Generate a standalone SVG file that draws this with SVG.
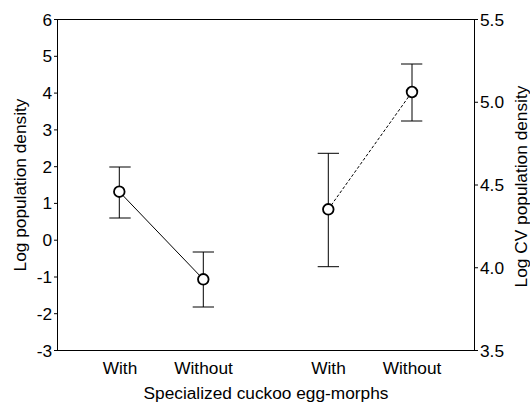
<svg xmlns="http://www.w3.org/2000/svg" width="530" height="404" viewBox="0 0 530 404">
<style>
text{font-family:"Liberation Sans",Arial,sans-serif;font-size:17.3px;fill:#000}
.ax{stroke:#000;stroke-width:1;fill:none}
.eb{stroke:#000;stroke-width:1;fill:none}
.pt{fill:#fff;stroke:#000;stroke-width:1.8}
.tl{text-anchor:end}
.tr{text-anchor:start}
.mid{text-anchor:middle}
</style>
<rect width="530" height="404" fill="#fff"/>
<g id="axes">
<rect class="ax" x="57.5" y="19.5" width="417" height="331"/>
<path class="ax" d="M54 19.5H57.5M54 56.3H57.5M54 93.1H57.5M54 129.9H57.5M54 166.7H57.5M54 203.4H57.5M54 240.2H57.5M54 277H57.5M54 313.7H57.5M54 350.5H57.5"/>
<path class="ax" d="M474.5 19.5H478M474.5 102.25H478M474.5 185H478M474.5 267.75H478M474.5 350.5H478"/>
<text class="tl" x="52" y="25.5">6</text>
<text class="tl" x="52" y="62.3">5</text>
<text class="tl" x="52" y="99.1">4</text>
<text class="tl" x="52" y="135.9">3</text>
<text class="tl" x="52" y="172.7">2</text>
<text class="tl" x="52" y="209.4">1</text>
<text class="tl" x="52" y="246.2">0</text>
<text class="tl" x="52" y="283">-1</text>
<text class="tl" x="52" y="319.7">-2</text>
<text class="tl" x="52" y="356.5">-3</text>
<text class="tr" x="480" y="25.5">5.5</text>
<text class="tr" x="480" y="108.25">5.0</text>
<text class="tr" x="480" y="191">4.5</text>
<text class="tr" x="480" y="273.75">4.0</text>
<text class="tr" x="480" y="356.5">3.5</text>
<text class="mid" x="120" y="373.5">With</text>
<text class="mid" x="203.5" y="373.5">Without</text>
<text class="mid" x="328.5" y="373.5">With</text>
<text class="mid" x="412" y="373.5">Without</text>
<text class="mid" x="266" y="399">Specialized cuckoo egg-morphs</text>
<text class="mid" transform="translate(26,185) rotate(-90)">Log population density</text>
<text class="mid" transform="translate(526.5,186.5) rotate(-90)">Log CV population density</text>
</g>
<g id="connectors">
<line x1="119.3" y1="191.7" x2="203.3" y2="279.3" stroke="#000" stroke-width="1"/>
<line x1="328.3" y1="209.3" x2="412" y2="92" stroke="#000" stroke-width="1" stroke-dasharray="3,2"/>
</g>
<g id="p1">
<path class="eb" d="M119.3 167V218M109.3 167H130.7M109.3 218H130.7"/>
<circle class="pt" cx="119.3" cy="191.7" r="5.3"/>
</g>
<g id="p2">
<path class="eb" d="M203.3 252V307M192.7 252H214M192.7 307H214"/>
<circle class="pt" cx="203.3" cy="279.3" r="5.3"/>
</g>
<g id="p3">
<path class="eb" d="M328.3 153.3V266.7M317.7 153.3H339M317.7 266.7H339"/>
<circle class="pt" cx="328.3" cy="209.3" r="5.3"/>
</g>
<g id="p4">
<path class="eb" d="M412 64V121M401 64H422.3M401 121H422.3"/>
<circle class="pt" cx="412" cy="92" r="5.3"/>
</g>
</svg>
